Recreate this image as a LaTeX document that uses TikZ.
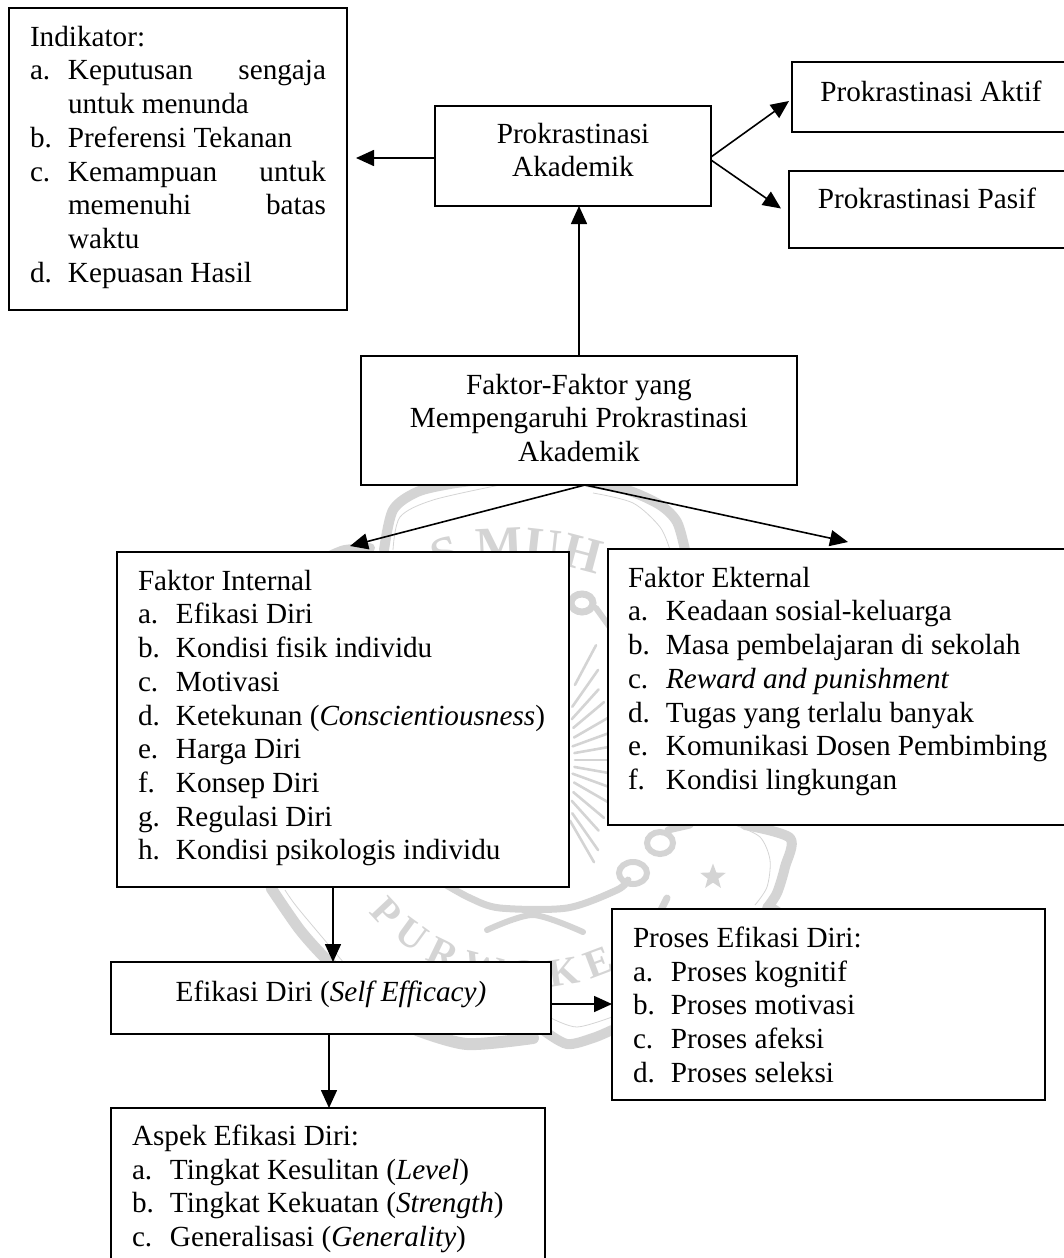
\documentclass[tikz,border=0pt]{standalone}
\usepackage{fontspec}
\setmainfont{Liberation Serif}
\usetikzlibrary{arrows.meta,shapes.geometric,decorations.text}
\definecolor{wmgray}{gray}{0.83}
\newcommand\bxt[4]{\parbox[c][#2pt][t]{#1pt}{\fontsize{29.2pt}{33.7pt}\selectfont\baselineskip=33.7pt\lineskiplimit=-100pt\hrule height 0pt width #1pt\vskip\dimexpr#3pt-20pt\relax #4}}
\newcommand\hl[2]{\hbox{\kern#1pt\rule{0pt}{20pt}#2}}
\newcommand\itm[3]{\hl{#1}{\makebox[38pt][l]{#2}#3}}
\newcommand\cl[2]{\hbox to #1pt{\hss\rule{0pt}{20pt}#2\hss}}
\tikzset{
 bx/.style={draw=black,fill=white,line width=1.8pt,inner sep=0pt,outer sep=0pt,anchor=north west},
 arr/.style={-{Triangle[length=18pt,width=16pt]},line width=1.6pt,black},
 wmband/.style={draw=wmgray,line width=10pt,line cap=round,line join=round},
 wmthin/.style={draw=wmgray,line width=0.8pt},
 wmray/.style={draw=wmgray,line width=2.6pt,line cap=round},
 wmloop/.style={draw=wmgray,line width=6pt}
}
\begin{document}
\begin{tikzpicture}[x=1pt,y=-1pt]
\useasboundingbox (0,0) rectangle (1064,1258);
% watermark
\draw[wmband] plot[smooth] coordinates {(384,550) (393,510) (417,492) (450,484) (480,480)};
\draw[wmband] plot[smooth] coordinates {(587,482) (627,490) (660,505) (677,522) (685,550)};
\draw[wmband] plot[smooth] coordinates {(330,556) (345,550) (370,548)};
\draw[wmthin] plot[smooth] coordinates {(393,550) (400,517) (433,500) (500,485)};
\draw[wmthin] plot[smooth] coordinates {(593,493) (633,503) (660,527) (670,550)};
\draw[wmband] plot[smooth] coordinates {(745,825) (790,838) (785,867) (777,893) (767,908)};
\draw[wmthin] plot[smooth] coordinates {(735,825) (760,837) (770,860) (767,887) (755,905)};
\node[star,star points=5,star point ratio=2.4,fill=wmgray,inner sep=0pt,minimum size=27pt] (wmstar) at (713,877) {};
\draw[wmband,line width=7pt] plot[smooth] coordinates {(443,883) (470,898) (500,908) (567,908) (617,890) (628,880)};
\draw[wmband,line width=6pt] plot[smooth] coordinates {(487,930) (533,915) (583,932)};
\draw[wmloop] (633,873) ellipse (14pt and 11pt);
\draw[wmloop] (660,843) ellipse (13pt and 11pt);
\draw[wmband,line width=7pt] (668,830) -- (690,825);
\draw[wmband,line width=11pt] plot[smooth] coordinates {(271,888) (300,930) (327,960) (345,975)};
\draw[wmthin] plot[smooth] coordinates {(285,890) (297,907) (333,950) (350,970)};
\draw[wmband,line width=12pt] plot[smooth] coordinates {(417,1030) (467,1044) (533,1038)};
\draw[wmband] plot[smooth] coordinates {(543,1030) (567,1044) (593,1038) (612,1030)};
\draw[wmthin] plot[smooth] coordinates {(551,1018) (577,1027) (612,1017)};
\draw[wmband,line width=7pt] (770,905) -- (785,915);
\draw[wmband,line width=7pt] (667,898) -- (660,912);
% chain in the gap
\draw[wmloop,line width=7pt] (582,603) ellipse (11pt and 9pt);
\draw[wmband,line width=6pt] (596,608) -- (609,626);
% feather rays
\foreach \a/\ra/\rb in {-62/85/130,-55/65/110,-48/55/95,-40/50/90,-30/45/85,-20/40/85,-10/40/85,0/40/80,10/40/85,20/40/85,30/45/85,40/50/90,48/55/95,55/65/110,60/70/118}{
  \draw[wmray] (535,760) ++(\a:\ra) -- ++(\a:\rb-\ra);
}
% seal lettering
\path[decorate,decoration={text along path,text color=wmgray,text={|\fontsize{50pt}{50pt}\bfseries\selectfont|S MUH}}] (438,575) .. controls (480,555) and (560,555) .. (620,585);
\path[decorate,decoration={text along path,text color=wmgray,text={|\fontsize{40pt}{40pt}\bfseries\selectfont|P U R W O K E}}] (369,912) .. controls (420,975) and (530,1015) .. (625,965);
% boxes
\node[bx] (ind) at (9,8) {\bxt{338}{302}{38}{%
 \hl{21}{Indikator:}
 \itm{21}{a.}{\makebox[258pt][s]{Keputusan\hfill sengaja}}
 \hl{59}{untuk menunda}
 \itm{21}{b.}{Preferensi Tekanan}
 \itm{21}{c.}{\makebox[258pt][s]{Kemampuan\hfill untuk}}
 \hl{59}{\makebox[258pt][s]{memenuhi\hfill batas}}
 \hl{59}{waktu}
 \itm{21}{d.}{Kepuasan Hasil}}};
\node[bx] (pa) at (435,106) {\bxt{276}{100}{37}{\cl{276}{Prokrastinasi}\cl{276}{Akademik}}};
\node[bx] (akt) at (792,62) {\bxt{280}{70}{39}{\cl{278}{Prokrastinasi Aktif}}};
\node[bx] (pas) at (789,171) {\bxt{282}{77}{37}{\cl{276}{Prokrastinasi Pasif}}};
\node[bx] (fak) at (361,356) {\bxt{436}{129}{38}{\cl{436}{Faktor-Faktor yang}\cl{436}{Mempengaruhi Prokrastinasi}\cl{436}{Akademik}}};
\node[bx] (int) at (117,552) {\bxt{452}{335}{38}{%
 \hl{21}{Faktor Internal}
 \itm{21}{a.}{Efikasi Diri}
 \itm{21}{b.}{Kondisi fisik individu}
 \itm{21}{c.}{Motivasi}
 \itm{21}{d.}{Ketekunan ({\itshape Conscientiousness})}
 \itm{21}{e.}{Harga Diri}
 \itm{21}{f.}{Konsep Diri}
 \itm{21}{g.}{Regulasi Diri}
 \itm{21}{h.}{Kondisi psikologis individu}}};
\node[bx] (ekt) at (608,549) {\bxt{462}{276}{38}{%
 \hl{20}{Faktor Ekternal}
 \itm{20}{a.}{Keadaan sosial-keluarga}
 \itm{20}{b.}{Masa pembelajaran di sekolah}
 \itm{20}{c.}{{\itshape Reward and punishment}}
 \itm{20}{d.}{Tugas yang terlalu banyak}
 \itm{20}{e.}{Komunikasi Dosen Pembimbing}
 \itm{20}{f.}{Kondisi lingkungan}}};
\node[bx] (efi) at (111,962) {\bxt{440}{72}{39}{\cl{440}{Efikasi Diri ({\itshape Self Efficacy)}}}};
\node[bx] (pro) at (612,909) {\bxt{433}{191}{38}{%
 \hl{21}{Proses Efikasi Diri:}
 \itm{21}{a.}{Proses kognitif}
 \itm{21}{b.}{Proses motivasi}
 \itm{21}{c.}{Proses afeksi}
 \itm{21}{d.}{Proses seleksi}}};
\node[bx] (asp) at (111,1108) {\bxt{434}{170}{37}{%
 \hl{21}{Aspek Efikasi Diri:}
 \itm{21}{a.}{Tingkat Kesulitan ({\itshape Level})}
 \itm{21}{b.}{Tingkat Kekuatan ({\itshape Strength})}
 \itm{21}{c.}{Generalisasi ({\itshape Generality})}}};
% connectors
\draw[arr,shorten >=9pt] ([yshift=-2pt]pa.west) -- ([yshift=-2pt]pa.west -| ind.east);
\draw[arr] ([yshift=-1pt]pa.east) -- ([xshift=-3pt,yshift=-4pt]akt.west);
\draw[arr] ([yshift=-4pt]pa.east) -- ([xshift=-8pt,yshift=1pt]pas.west);
\draw[arr] (fak.north) -- (fak.north |- pa.south);
\draw[arr] ([xshift=6pt]fak.south) -- ([xshift=7pt,yshift=6pt]int.north);
\draw[arr] ([xshift=6pt]fak.south) -- ([xshift=9pt,yshift=7pt]ekt.north);
\draw[arr] ([xshift=-10pt]int.south) -- ([xshift=-10pt]int.south |- efi.north);
\draw[arr] ([xshift=-2pt]efi.south) -- ([xshift=-2pt]efi.south |- asp.north);
\draw[arr] ([yshift=-6pt]efi.east) -- ([yshift=-6pt]efi.east -| pro.west);
\end{tikzpicture}
\end{document}
